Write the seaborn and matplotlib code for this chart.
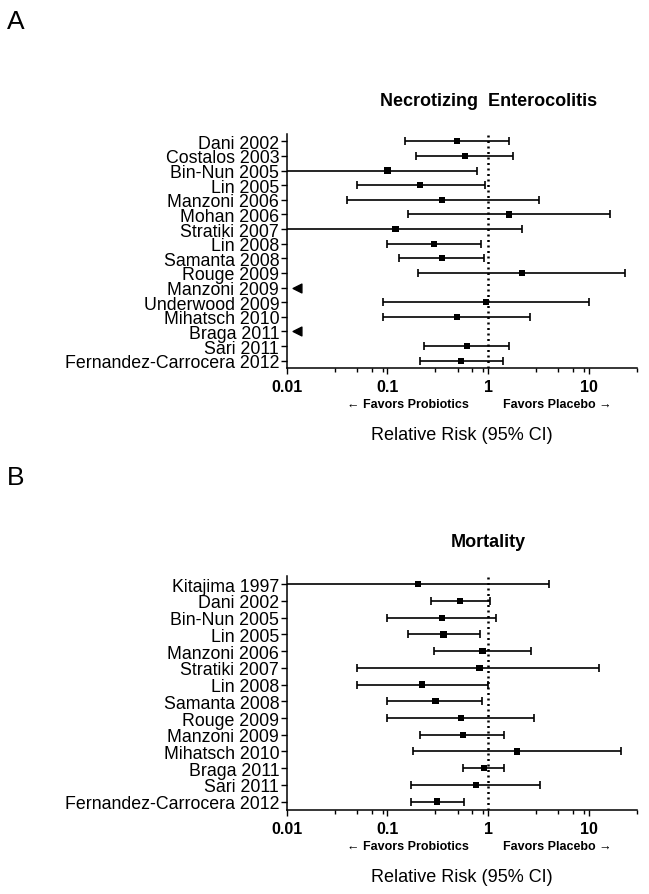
"""Forest plots: probiotics vs placebo, NEC (A) and mortality (B)"""
import numpy as np
import pandas as pd
import matplotlib
matplotlib.use("Agg")
import matplotlib.pyplot as plt
import matplotlib.ticker as mticker
import matplotlib.transforms as mtrans
import seaborn as sns

# --- Panel A: necrotizing enterocolitis ---
nec_studies = ["Dani 2002", "Costalos 2003", "Bin-Nun 2005", "Lin 2005",
               "Manzoni 2006", "Mohan 2006", "Stratiki 2007", "Lin 2008",
               "Samanta 2008", "Rouge 2009", "Manzoni 2009", "Underwood 2009",
               "Mihatsch 2010", "Braga 2011", "Sari 2011",
               "Fernandez-Carrocera 2012"]
nec_rr = [0.49, 0.59, 0.10, 0.21, 0.35, 1.61, 0.12, 0.29,
          0.35, 2.19, np.nan, 0.95, 0.49, np.nan, 0.62, 0.54]
nec_lo = [0.15, 0.19, 0.005, 0.05, 0.04, 0.16, 0.005, 0.10,
          0.13, 0.20, np.nan, 0.09, 0.09, np.nan, 0.23, 0.21]
nec_hi = [1.61, 1.78, 0.77, 0.93, 3.2, 16.4, 2.19, 0.85,
          0.91, 23.2, np.nan, 10.1, 2.6, np.nan, 1.63, 1.40]

# --- Panel B: mortality ---
mort_studies = ["Kitajima 1997", "Dani 2002", "Bin-Nun 2005", "Lin 2005",
                "Manzoni 2006", "Stratiki 2007", "Lin 2008", "Samanta 2008",
                "Rouge 2009", "Manzoni 2009", "Mihatsch 2010", "Braga 2011",
                "Sari 2011", "Fernandez-Carrocera 2012"]
mort_rr = [0.20, 0.53, 0.35, 0.36, 0.88, 0.82, 0.22, 0.30,
           0.54, 0.56, 1.95, 0.91, 0.76, 0.31]
mort_lo = [0.005, 0.27, 0.10, 0.16, 0.29, 0.05, 0.05, 0.10,
           0.10, 0.21, 0.18, 0.56, 0.17, 0.17]
mort_hi = [4.0, 1.05, 1.2, 0.84, 2.65, 12.6, 1.0, 0.87,
           2.85, 1.44, 21.0, 1.44, 3.3, 0.57]

x_ticks = [0.01, 0.1, 1, 10]

sns.set_theme(style="ticks")
plt.rcParams["font.family"] = ["Liberation Sans", "DejaVu Sans"]
plt.rcParams["text.color"] = "black"
plt.rcParams["xtick.color"] = "black"
plt.rcParams["ytick.color"] = "black"
plt.rcParams["axes.labelcolor"] = "black"

# marker spot for studies with no events (drawn at the left edge)
NO_EVENT_X = 0.0125


def draw_panel(ax, studies, rr, lo, hi, title):
    df = pd.DataFrame({"study": studies, "rr": rr, "lo": lo, "hi": hi})
    df["pos"] = np.arange(len(df))
    ok = df.dropna()
    empty = df[df["rr"].isna()]

    # confidence intervals
    ax.errorbar(ok["rr"], ok["pos"],
                xerr=[ok["rr"] - ok["lo"], ok["hi"] - ok["rr"]],
                fmt="none", ecolor="black", elinewidth=1.2,
                capsize=3, capthick=1.2, zorder=2)
    # point estimates
    sns.scatterplot(data=ok, x="rr", y="pos", marker="s", color="black",
                    s=20, edgecolor="none", ax=ax, zorder=3)
    if len(empty):
        ax.scatter(np.full(len(empty), NO_EVENT_X), empty["pos"], marker="<",
                   color="black", s=40, zorder=3)

    ax.axvline(1, color="black", lw=1.8, ls=(0, (0.8, 1.4)), zorder=1)

    ax.set_xscale("log")
    ax.set_xlim(0.01, 30)
    ax.set_ylim(len(df) - 0.5, -0.5)
    ax.set_yticks(df["pos"])
    ax.set_yticklabels(df["study"], fontsize=12.8, color="black")
    ax.set_xticks(x_ticks)
    ax.xaxis.set_major_formatter(mticker.FuncFormatter(lambda v, p: f"{v:g}"))
    ax.xaxis.set_minor_locator(mticker.LogLocator(base=10, subs=[3, 5, 7, 9]))
    ax.xaxis.set_minor_formatter(mticker.NullFormatter())
    for lab in ax.get_xticklabels():
        lab.set_fontweight("bold")
        lab.set_fontsize(11.5)
        lab.set_color("black")
    ax.tick_params(axis="x", which="major", length=4, width=1, pad=4)
    ax.tick_params(axis="x", which="minor", length=3, width=1)
    ax.tick_params(axis="y", length=4.5, width=1, pad=1)
    ax.set_xlabel("")
    ax.set_ylabel("")
    sns.despine(ax=ax)
    for sp in ("left", "bottom"):
        ax.spines[sp].set_color("black")
        ax.spines[sp].set_linewidth(1.1)

    tr = mtrans.blended_transform_factory(ax.transData, ax.transAxes)
    ax.text(1, 1.145, title, transform=tr, ha="center", va="center",
            fontsize=13, fontweight="bold", color="black")
    ax.text(0.65, -0.155, "\u2190 Favors Probiotics", transform=tr, ha="right",
            va="center", fontsize=9, fontweight="bold", color="black")
    ax.text(1.41, -0.155, "Favors Placebo \u2192", transform=tr, ha="left",
            va="center", fontsize=9, fontweight="bold", color="black")
    ax.text(0.5, -0.283, "Relative Risk (95% CI)", transform=ax.transAxes,
            ha="center", va="center", fontsize=13, color="black")


fig = plt.figure(figsize=(6.49, 8.95), dpi=100)
ax_a = fig.add_axes([0.442, 0.5877, 0.539, 0.2615])
ax_b = fig.add_axes([0.442, 0.0939, 0.539, 0.2615])

draw_panel(ax_a, nec_studies, nec_rr, nec_lo, nec_hi, "Necrotizing  Enterocolitis")
draw_panel(ax_b, mort_studies, mort_rr, mort_lo, mort_hi, "Mortality")

fig.text(0.01, 1 - 22 / 895, "A", fontsize=19, va="center", ha="left", color="black")
fig.text(0.01, 1 - 478 / 895, "B", fontsize=19, va="center", ha="left", color="black")

fig.savefig("out.png", dpi=100, facecolor="white")
